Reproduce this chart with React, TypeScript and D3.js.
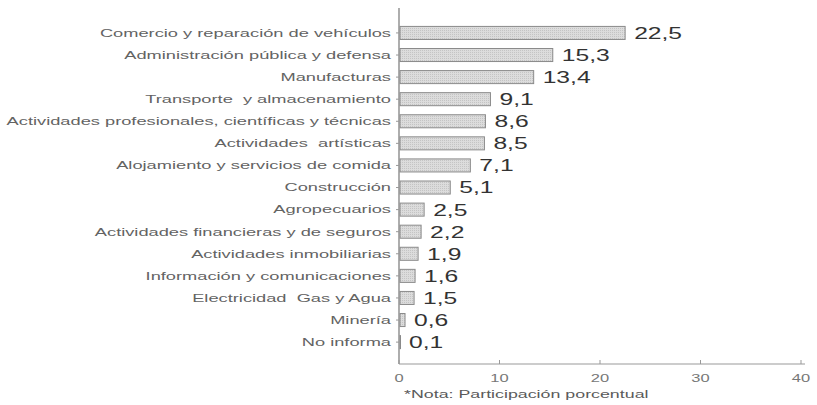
import React from "react";
import * as d3 from "d3";

const categories = [
  "Comercio y reparación de vehículos",
  "Administración pública y defensa",
  "Manufacturas",
  "Transporte  y almacenamiento",
  "Actividades profesionales, científicas y técnicas",
  "Actividades  artísticas",
  "Alojamiento y servicios de comida",
  "Construcción",
  "Agropecuarios",
  "Actividades financieras y de seguros",
  "Actividades inmobiliarias",
  "Información y comunicaciones",
  "Electricidad  Gas y Agua",
  "Minería",
  "No informa",
];
const values = [22.5, 15.3, 13.4, 9.1, 8.6, 8.5, 7.1, 5.1, 2.5, 2.2, 1.9, 1.6, 1.5, 0.6, 0.1];
const xTicks = [0, 10, 20, 30, 40];
const note = "*Nota: Participación porcentual";

const W = 817;
const H = 405;
const left = 399;
const right = 801;
const top = 22;
const bottom = 364;

function SText({
  x,
  y,
  sx,
  anchor,
  size,
  fill,
  children,
}: {
  x: number;
  y: number;
  sx: number;
  anchor: "start" | "middle" | "end";
  size: number;
  fill: string;
  children: React.ReactNode;
}) {
  return (
    <g transform={`translate(${x},${y}) scale(${sx},1)`}>
      <text x={0} y={0} dy="0.35em" textAnchor={anchor} fontSize={size} fill={fill} style={{ whiteSpace: "pre" }}>
        {children}
      </text>
    </g>
  );
}

export default function App() {
  const x = d3.scaleLinear().domain([0, 40]).range([left, right]);
  const y = d3
    .scaleBand<string>()
    .domain(categories)
    .range([top, top + 22.07 * 15])
    .paddingInner(0.41)
    .paddingOuter(0.2);
  const fmt = (v: number) => v.toFixed(1).replace(".", ",");
  return (
    <svg
      width={W}
      height={H}
      style={{ position: "absolute", left: 0, top: 0, background: "#fff" }}
      fontFamily="Liberation Sans, Arial, sans-serif"
    >
      <defs>
        <pattern id="dots" width="2" height="2" patternUnits="userSpaceOnUse">
          <rect width="2" height="2" fill="#dcdcdc" />
          <rect width="1" height="1" fill="#c4c4c4" />
        </pattern>
      </defs>
      {/* axes */}
      <line x1={left} x2={left} y1={8} y2={bottom} stroke="#777" strokeWidth={1.2} />
      <line x1={left} x2={right + 4} y1={bottom} y2={bottom} stroke="#999" strokeWidth={1} />
      {xTicks.map((t) => (
        <g key={t}>
          <line x1={x(t)} x2={x(t)} y1={bottom} y2={bottom - 4} stroke="#999" />
          <SText x={x(t)} y={378} sx={1.5} anchor="middle" size={11} fill="#777">
            {t}
          </SText>
        </g>
      ))}
      {categories.map((c, i) => {
        const yc = (y(c) as number) + y.bandwidth() / 2;
        return (
          <g key={c}>
            <line x1={left - 3} x2={left} y1={yc} y2={yc} stroke="#999" />
            <SText x={391} y={yc} sx={1.66} anchor="end" size={11} fill="#636363">
              {c}
            </SText>
            <rect
              x={left + 1}
              y={y(c)}
              width={Math.max(x(values[i]) - left - 1, 0.5)}
              height={y.bandwidth()}
              fill="url(#dots)"
              stroke="#8a8a8a"
              strokeWidth={1}
            />
            <SText x={x(values[i]) + 9} y={yc} sx={1.45} anchor="start" size={17} fill="#333">
              {fmt(values[i])}
            </SText>
          </g>
        );
      })}
      <SText x={404} y={394} sx={1.62} anchor="start" size={11} fill="#5a5a5a">
        {note}
      </SText>
    </svg>
  );
}
